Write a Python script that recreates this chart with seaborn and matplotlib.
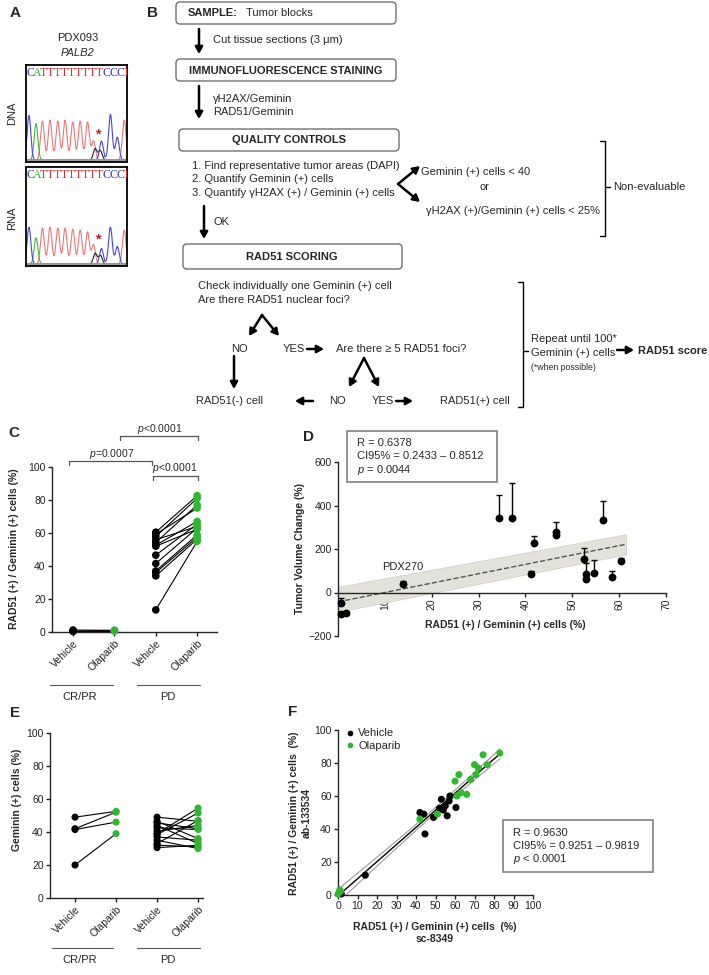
import numpy as np
import pandas as pd
import matplotlib
matplotlib.use("Agg")
import matplotlib.pyplot as plt
import seaborn as sns
from matplotlib.patches import FancyBboxPatch, Rectangle

sns.set_theme(style="ticks")
plt.rcParams['font.family'] = ['Liberation Sans', 'DejaVu Sans']
plt.rcParams['mathtext.fontset'] = 'custom'
plt.rcParams['mathtext.rm'] = 'Liberation Sans'
plt.rcParams['mathtext.it'] = 'Liberation Sans:italic'
plt.rcParams['mathtext.bf'] = 'Liberation Sans:bold'
plt.rcParams['axes.linewidth'] = 1.0
plt.rcParams['xtick.major.width'] = 1.0
plt.rcParams['ytick.major.width'] = 1.0
plt.rcParams['xtick.major.size'] = 3
plt.rcParams['ytick.major.size'] = 3
plt.rcParams['xtick.major.pad'] = 1.5
plt.rcParams['ytick.major.pad'] = 1.5

GREEN = '#2fb82f'

# ---------------- data ----------------
# panel A: chromatogram peaks (position in bases, height as fraction of box)
seq = "CATTTTTTTTTCCCT"
dna_blue_pos = [0.43, 10.9, 12.2, 13.2]
dna_blue_h = [0.47, 0.20, 0.48, 0.24]
dna_green_pos = [1.45]
dna_green_h = [0.385]
dna_red_pos = [2.37, 3.48, 4.6, 5.65, 6.76, 7.83, 8.89, 9.75, 14.2]
dna_red_h = [0.41, 0.42, 0.41, 0.42, 0.40, 0.41, 0.40, 0.20, 0.42]
dna_black_pos = [10.0, 10.75]
dna_black_h = [0.12, 0.10]

rna_blue_h = [0.38, 0.16, 0.38, 0.18]
rna_green_h = [0.27]
rna_red_h = [0.37, 0.38, 0.37, 0.37, 0.36, 0.35, 0.33, 0.20, 0.35]
rna_black_h = [0.11, 0.09]

# panel C: RAD51 score, paired vehicle / olaparib
c_crpr_vehicle = [1.2, 0.8, 0.5, 0.3]
c_crpr_olaparib = [1.0, 0.8, 0.6, 0.9]
c_pd_vehicle = [60.5, 59.3, 57.9, 55.9, 54.3, 52.6, 52.0, 46.6, 41.5, 37.0, 36.0, 34.0, 13.4]
c_pd_olaparib = [82.6, 75.1, 81.0, 64.0, 77.0, 67.0, 62.3, 65.4, 63.0, 58.9, 57.5, 56.3, 54.9]

# panel D: RAD51 score vs tumour volume change
d_rad51 = [0.6, 0.6, 1.8, 13.8, 34.4, 37.2, 41.2, 41.9, 46.5, 46.5, 52.5, 52.9, 52.9, 54.6, 56.6, 58.5, 60.4]
d_tvc = [-50, -101, -93, 37, 341, 341, 83, 226, 277, 263, 152, 83, 60, 88, 332, 69, 143]
d_err = [25, 0, 0, 15, 109, 164, 14, 32, 46, 0, 51, 51, 0, 60, 88, 28, 14]
d_fit_x = [0, 61.5]
d_fit_mid = [-43, 222]
d_fit_lo = [-89, 175]
d_fit_hi = [26, 268]

# panel E: Geminin (+) cells
e_crpr_vehicle = [49, 42, 41.5, 20]
e_crpr_olaparib = [52.5, 52, 46, 39]
e_pd_vehicle = [49, 46.5, 45.5, 44, 42.5, 40.5, 39, 38.5, 37, 35, 33, 32, 30.5]
e_pd_olaparib = [46.5, 36, 42, 33, 41.5, 44, 54.5, 51.5, 35, 30, 47, 31, 32]

# panel F: two antibodies
f_veh_x = [0.7, 1.7, 14, 42, 44, 44.6, 49, 53, 52, 53.7, 55, 56, 57, 57.4, 60.5, 54]
f_veh_y = [1.4, 0.6, 12, 50, 49, 37, 47, 58, 52.5, 53, 54, 48, 57, 60, 53, 51.5]
f_ola_x = [0, 0.9, 1.2, 42, 51, 60, 61, 62, 63, 66, 68, 70, 70.7, 72, 74.4, 76.5, 83]
f_ola_y = [0.6, 3, 2, 46, 49, 69, 60, 73, 62, 61, 70, 79, 73, 77, 85, 79, 86]

arms = ['Vehicle', 'Olaparib', 'Vehicle', 'Olaparib']

# ---------------- figure ----------------
W, H = 709, 975
fig = plt.figure(figsize=(W / 100, H / 100), dpi=100)


def rect(l, t, r, b):
    return [l / W, 1 - b / H, (r - l) / W, (b - t) / H]


ov = fig.add_axes([0, 0, 1, 1])
ov.set_xlim(0, W)
ov.set_ylim(H, 0)
ov.axis('off')
ov.set_zorder(10)

FS = 8
LFS = 7.5  # bold axis titles


def txt(x, y, s, ha='left', **kw):
    kw.setdefault('size', FS)
    ov.text(x, y, s, ha=ha, va='center', **kw)


for lab, (x, y) in zip('ABCDEF', [(15, 13), (153, 13), (14, 433), (308, 437), (15, 713), (293, 712)]):
    txt(x, y, lab, ha='center', size=11, weight='bold')

# ---------------- A ----------------
txt(78, 38, 'PDX093', ha='center')
txt(78, 53, 'PALB2', ha='center', style='italic')
txt(12, 113, 'DNA', ha='center', rotation=90)
txt(12, 218, 'RNA', ha='center', rotation=90)

grid = np.linspace(0, 14.6, 600)


def trace(pos, h):
    out = np.zeros_like(grid)
    for p, hh in zip(pos, h):
        out += hh * np.exp(-0.5 * ((grid - p) / 0.27) ** 2)
    return out


def chromatogram(box, blue_h, green_h, red_h, black_h, star_y):
    ax = fig.add_axes(rect(*box))
    ax.set_xlim(0, 14.6)
    ax.set_ylim(-0.02, 1.0)
    for pos, h, c in [(dna_red_pos, red_h, '#ef7474'), (dna_green_pos, green_h, '#36c236'),
                      (dna_black_pos, black_h, '#222222'), (dna_blue_pos, blue_h, '#4646e0')]:
        sns.lineplot(x=grid, y=trace(pos, h), color=c, lw=0.8, ax=ax)
    ax.axhline(0, color='#9a9a9a', lw=2)
    cols = {'C': '#3535d0', 'A': '#30b830', 'T': '#dd3030'}
    for i, b in enumerate(seq):
        ax.text(i + 0.58, 0.92, b, color=cols[b], ha='center', va='center', size=8.5,
                family=['Liberation Serif', 'DejaVu Serif'], clip_on=True)
    ax.text(10.3, star_y, '*', color='#c02020', ha='center', va='center', size=10, weight='bold')
    ax.set_xticks([])
    ax.set_yticks([])
    for s in ax.spines.values():
        s.set_color('black')
        s.set_linewidth(1.3)


chromatogram((26, 65, 127, 162), dna_blue_h, dna_green_h, dna_red_h, dna_black_h, 0.27)
chromatogram((26, 167, 127, 266), rna_blue_h, rna_green_h, rna_red_h, rna_black_h, 0.25)

# ---------------- B ----------------


def box(l, t, r, b):
    ov.add_patch(FancyBboxPatch((l, t), r - l, b - t, boxstyle='round,pad=0,rounding_size=4',
                                fc='white', ec='#707070', lw=1.0))


def arrow(x0, y0, x1, y1):
    ov.annotate('', xy=(x1, y1), xytext=(x0, y0),
                arrowprops=dict(arrowstyle='-|>,head_length=0.5,head_width=0.28', color='black',
                                lw=1.8, shrinkA=0, shrinkB=0, mutation_scale=8))


def bracket(x, y0, y1, ym):
    ov.plot([x - 5, x, x, x - 5], [y0, y0, y1, y1], color='black', lw=1.0)
    ov.plot([x, x + 5], [ym, ym], color='black', lw=1.0)


box(176, 2, 396, 24)
txt(188, 13, 'SAMPLE:', weight='bold')
txt(246, 13, 'Tumor blocks')
arrow(199, 29, 199, 54)
txt(213, 40, 'Cut tissue sections (3 μm)')
box(176, 59, 396, 81)
txt(286, 71, 'IMMUNOFLUORESCENCE STAINING', ha='center', weight='bold')
arrow(199, 86, 199, 119)
txt(213, 99, 'γH2AX/Geminin')
txt(213, 112, 'RAD51/Geminin')
box(179, 129, 399, 151)
txt(289, 140, 'QUALITY CONTROLS', ha='center', weight='bold')
txt(192, 166, '1. Find representative tumor areas (DAPI)')
txt(192, 179, '2. Quantify Geminin (+) cells')
txt(192, 193, '3. Quantify γH2AX (+) / Geminin (+) cells')
arrow(398, 184, 420, 166)
arrow(398, 184, 420, 202)
txt(421, 172, 'Geminin (+) cells < 40')
txt(484, 187, 'or', ha='center')
txt(426, 211, 'γH2AX (+)/Geminin (+) cells < 25%')
bracket(605, 141, 236, 187)
txt(613, 187, 'Non-evaluable')
arrow(204, 206, 204, 239)
txt(214, 222, 'OK')
box(183, 244, 402, 269)
txt(292, 257, 'RAD51 SCORING', ha='center', weight='bold')
txt(198, 286, 'Check individually one Geminin (+) cell')
txt(198, 300, 'Are there RAD51 nuclear foci?')
arrow(262, 315, 249, 336)
arrow(262, 315, 279, 336)
txt(239, 349, 'NO', ha='center')
txt(294, 349, 'YES', ha='center')
arrow(307, 349, 324, 349)
txt(336, 349, 'Are there ≥ 5 RAD51 foci?')
arrow(364, 358, 349, 387)
arrow(364, 358, 379, 387)
arrow(234, 356, 234, 389)
txt(229, 401, 'RAD51(-) cell', ha='center')
arrow(313, 401, 295, 401)
txt(337, 401, 'NO', ha='center')
txt(383, 401, 'YES', ha='center')
arrow(396, 401, 413, 401)
txt(440, 401, 'RAD51(+) cell')
bracket(523, 282, 407, 351)
txt(531, 339, 'Repeat until 100*')
txt(531, 353, 'Geminin (+) cells')
txt(531, 367, '(*when possible)', size=6.3)
arrow(617, 350, 634, 350)
txt(638, 351, 'RAD51 score', weight='bold')


# ---------------- C and E ----------------
def paired(ax, crpr_v, crpr_o, pd_v, pd_o, s):
    rows = []
    for i, (v, o) in enumerate(zip(crpr_v, crpr_o)):
        rows += [('crpr%d' % i, 0, v, 'Vehicle'), ('crpr%d' % i, 1, o, 'Olaparib')]
    for i, (v, o) in enumerate(zip(pd_v, pd_o)):
        rows += [('pd%d' % i, 2, v, 'Vehicle'), ('pd%d' % i, 3, o, 'Olaparib')]
    df = pd.DataFrame(rows, columns=['pair', 'pos', 'value', 'arm'])
    sns.lineplot(data=df, x='pos', y='value', units='pair', estimator=None, color='black',
                 lw=0.8, ax=ax, clip_on=False)
    sns.scatterplot(data=df, x='pos', y='value', hue='arm',
                    palette={'Vehicle': 'black', 'Olaparib': GREEN}, s=s, linewidth=0,
                    legend=False, ax=ax, clip_on=False, zorder=3)
    ax.set_ylim(0, 100)
    ax.set_yticks(range(0, 101, 20))
    ax.set_xticks([0, 1, 2, 3])
    ax.set_xticklabels(arms, rotation=45, ha='right', rotation_mode='anchor')
    ax.set_xlabel('')
    ax.set_ylabel('')
    ax.tick_params(labelsize=7.5, colors='#222222')
    sns.despine(ax=ax)


axc = fig.add_axes(rect(52, 467, 217, 632))
paired(axc, c_crpr_vehicle, c_crpr_olaparib, c_pd_vehicle, c_pd_olaparib, 30)
axc.set_xlim(-0.51, 3.48)
txt(14, 549, 'RAD51 (+) / Geminin (+) cells (%)', ha='center', rotation=90, weight='bold', size=LFS)


def pbar(x0, x1, y, label, tx, ty):
    ov.plot([x0, x0, x1, x1], [y + 4, y, y, y + 4], color='#555555', lw=0.9)
    txt(tx, ty, label, ha='center', size=7.5)


pbar(120, 198, 436, r'$\it{p}$<0.0001', 160, 429)
pbar(69, 152, 461, r'$\it{p}$=0.0007', 112, 454)
pbar(153, 198, 476, r'$\it{p}$<0.0001', 175, 468)

for (x0, x1, lab, tx), y in [((50, 113, 'CR/PR', 80), 685), ((137, 200, 'PD', 168), 685)]:
    ov.plot([x0, x1], [y, y], color='#555555', lw=0.8)
    txt(tx, y + 12, lab, ha='center')

axe = fig.add_axes(rect(50, 733, 203, 898))
paired(axe, e_crpr_vehicle, e_crpr_olaparib, e_pd_vehicle, e_pd_olaparib, 26)
axe.set_xlim(-0.61, 3.12)
txt(17, 800, 'Geminin (+) cells (%)', ha='center', rotation=90, weight='bold', size=LFS)
for (x0, x1, lab, tx), y in [((52, 113, 'CR/PR', 80), 948), ((137, 200, 'PD', 168), 948)]:
    ov.plot([x0, x1], [y, y], color='#555555', lw=0.8)
    txt(tx, y + 12, lab, ha='center')

# ---------------- D ----------------
axd = fig.add_axes(rect(338, 462, 666, 636))
axd.fill_between(d_fit_x, d_fit_lo, d_fit_hi, color='#e2e2da', ec='#cdcdc5', lw=0.5, zorder=1)
sns.lineplot(x=d_fit_x, y=d_fit_mid, color='#555555', lw=1.0, ls='--', ax=axd, zorder=2)
d_x = np.array(d_rad51)
d_y = np.array(d_tvc)
d_e = np.array(d_err)
m = d_e > 0
axd.errorbar(d_x[m], d_y[m], yerr=[np.zeros(m.sum()), d_e[m]], fmt='none', ecolor='black',
             elinewidth=1.0, capsize=2.5, capthick=1.0, zorder=3)
sns.scatterplot(x=d_rad51, y=d_tvc, color='black', s=32, linewidth=0, ax=axd, zorder=4, clip_on=False)
axd.set_xlim(0, 70)
axd.set_ylim(-200, 600)
axd.set_yticks([-200, 0, 200, 400, 600])
axd.set_xticks(range(10, 71, 10))
axd.tick_params(axis='x', labelrotation=90)
axd.tick_params(labelsize=7.5, colors='#222222')
axd.spines['bottom'].set_position(('data', 0))
sns.despine(ax=axd)
axd.text(13.9, 115, 'PDX270', ha='center', va='center', size=FS)
txt(300, 548, 'Tumor Volume Change (%)', ha='center', rotation=90, weight='bold', size=LFS)
txt(505, 625, 'RAD51 (+) / Geminin (+) cells (%)', ha='center', weight='bold', size=LFS)

ov.add_patch(Rectangle((347, 431), 150, 51, fc='white', ec='#808080', lw=1.2))
txt(357, 443, 'R = 0.6378')
txt(357, 456, 'CI95% = 0.2433 – 0.8512')
txt(357, 470, r'$\it{p}$ = 0.0044')

# ---------------- F ----------------
axf = fig.add_axes(rect(338, 730, 533, 895))
fx = np.array(f_veh_x + f_ola_x)
fy = np.array(f_veh_y + f_ola_y)
slope, icpt = np.polyfit(fx, fy, 1)
xs = np.linspace(0, max(fx), 50)
n = len(fx)
resid = fy - (slope * fx + icpt)
se = np.sqrt(np.sum(resid ** 2) / (n - 2))
half = 2.03 * se * np.sqrt(1 / n + (xs - fx.mean()) ** 2 / np.sum((fx - fx.mean()) ** 2))
sns.lineplot(x=xs, y=slope * xs + icpt, color='black', lw=1.0, ax=axf, zorder=2)
sns.lineplot(x=xs, y=slope * xs + icpt + half, color='#999999', lw=0.8, ax=axf, zorder=2)
sns.lineplot(x=xs, y=slope * xs + icpt - half, color='#999999', lw=0.8, ax=axf, zorder=2)
fdf = pd.DataFrame({'x': fx, 'y': fy, 'arm': ['Vehicle'] * len(f_veh_x) + ['Olaparib'] * len(f_ola_x)})
sns.scatterplot(data=fdf, x='x', y='y', hue='arm', palette={'Vehicle': 'black', 'Olaparib': GREEN},
                s=26, linewidth=0, ax=axf, zorder=4, clip_on=False)
axf.set_xlim(0, 100)
axf.set_ylim(0, 100)
axf.set_xticks(range(0, 101, 10))
axf.set_yticks(range(0, 101, 20))
axf.set_xlabel('')
axf.set_ylabel('')
axf.tick_params(labelsize=7.5, colors='#222222')
sns.despine(ax=axf)
axf.legend(loc='upper left', bbox_to_anchor=(-0.01, 1.05), frameon=False, fontsize=FS,
           handletextpad=0.0, handlelength=1.4, labelspacing=0.2, markerscale=0.8, borderaxespad=0.2)
txt(435, 927, 'RAD51 (+) / Geminin (+) cells  (%)', ha='center', weight='bold', size=LFS)
txt(435, 939, 'sc-8349', ha='center', weight='bold', size=LFS)
txt(294, 813, 'RAD51 (+) / Geminin (+) cells  (%)', ha='center', rotation=90, weight='bold', size=LFS)
txt(307, 813, 'ab-133534', ha='center', rotation=90, weight='bold', size=LFS)

ov.add_patch(Rectangle((503, 820), 150, 52, fc='white', ec='#808080', lw=1.2))
txt(513, 833, 'R = 0.9630')
txt(513, 846, 'CI95% = 0.9251 – 0.9819')
txt(513, 859, r'$\it{p}$ < 0.0001')

fig.savefig('out.png', dpi=100)
